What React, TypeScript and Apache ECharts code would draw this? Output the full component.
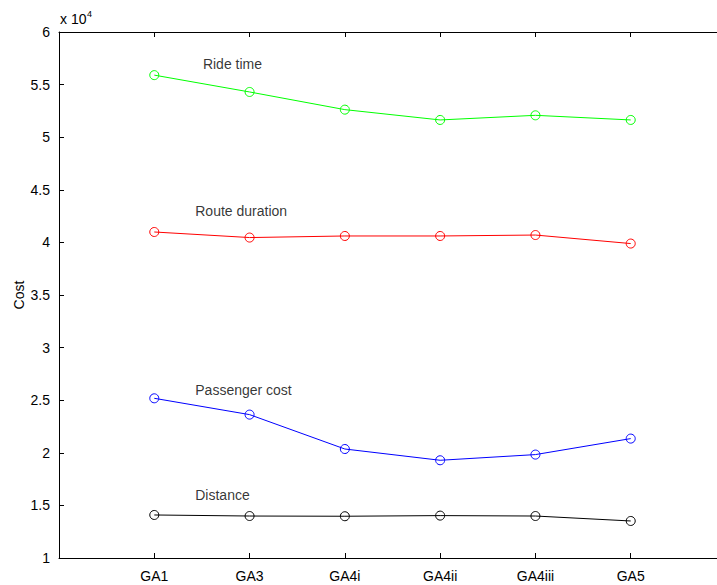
import React, { useEffect, useRef } from 'react';
import * as echarts from 'echarts';

const categories = ['GA1', 'GA3', 'GA4i', 'GA4ii', 'GA4iii', 'GA5'];
const rideTime = [55900, 54300, 52620, 51640, 52080, 51640];
const routeDuration = [40990, 40460, 40610, 40610, 40700, 39890];
const passengerCost = [25180, 23630, 20360, 19290, 19830, 21350];
const distance = [14090, 13990, 13970, 14030, 13990, 13520];
const seriesNames = ['Ride time', 'Route duration', 'Passenger cost', 'Distance'];
const seriesColors = ['#00ff00', '#ff0000', '#0000ff', '#000000'];
const labelX = [1.51, 1.43, 1.43, 1.43];
const labelY = [56930, 42980, 25940, 15960];
const yMin = 10000;
const yMax = 60000;
const yStep = 5000;
const yScale = 10000;

const FONT = 'Liberation Sans, Arial, Helvetica, sans-serif';

export default function App() {
  const ref = useRef<HTMLDivElement>(null);
  useEffect(() => {
    if (!ref.current) return;
    const chart = echarts.init(ref.current, null, { renderer: 'svg' });
    const allValues = [rideTime, routeDuration, passengerCost, distance];
    const lineSeries = allValues.map((vals, si) => ({
      type: 'line',
      name: seriesNames[si],
      data: categories.map((_, i) => [i + 1, vals[i]]),
      symbol: 'circle',
      symbolSize: 9,
      showAllSymbol: true,
      lineStyle: { color: seriesColors[si], width: 1 },
      itemStyle: { color: 'rgba(0,0,0,0)', borderColor: seriesColors[si], borderWidth: 1 },
      emphasis: { disabled: true },
      z: 3,
    }));
    const labelSeries = {
      type: 'scatter',
      symbolSize: 0,
      data: seriesNames.map((n, i) => ({ name: n, value: [labelX[i], labelY[i]] })),
      label: {
        show: true,
        position: 'right',
        distance: 0,
        formatter: '{b}',
        color: '#000',
        fontSize: 14,
        fontFamily: FONT,
      },
      silent: true,
      z: 4,
    };
    const axisLineStyle = { lineStyle: { color: '#000', width: 1 } };
    chart.setOption({
      animation: false,
      backgroundColor: '#fff',
      grid: {
        left: 59,
        top: 32,
        bottom: 27,
        right: -9,
        containLabel: false,
        outerBoundsMode: 'none',
      },
      xAxis: [
        {
          type: 'value',
          min: 0,
          max: 7,
          interval: 1,
          position: 'bottom',
          axisLine: { show: true, onZero: false, ...axisLineStyle },
          axisTick: { show: true, inside: true, length: 5, lineStyle: { color: '#000' } },
          axisLabel: {
            color: '#000',
            fontSize: 14,
            fontFamily: FONT,
            margin: 11,
            formatter: (v: number) => categories[v - 1] || '',
          },
          splitLine: { show: false },
        },
        {
          type: 'value',
          min: 0,
          max: 7,
          interval: 1,
          position: 'top',
          axisLine: { show: true, onZero: false, ...axisLineStyle },
          axisTick: { show: true, inside: true, length: 5, lineStyle: { color: '#000' } },
          axisLabel: { show: false },
          splitLine: { show: false },
        },
      ],
      yAxis: {
        type: 'value',
        min: yMin,
        max: yMax,
        interval: yStep,
        name: 'Cost',
        nameLocation: 'middle',
        nameGap: 33,
        nameMoveOverlap: false,
        nameTextStyle: { color: '#000', fontSize: 14, fontFamily: FONT },
        axisLine: { show: true, onZero: false, ...axisLineStyle },
        axisTick: { show: true, inside: true, length: 5, lineStyle: { color: '#000' } },
        axisLabel: {
          color: '#000',
          fontSize: 14,
          fontFamily: FONT,
          margin: 9,
          formatter: (v: number) => String(v / yScale),
        },
        splitLine: { show: false },
      },
      graphic: [
        {
          type: 'text',
          left: 60,
          top: 12,
          style: { text: 'x 10', fontSize: 14, fontFamily: FONT, fill: '#000' },
        },
        {
          type: 'text',
          left: 87,
          top: 9,
          style: { text: '4', fontSize: 9, fontFamily: FONT, fill: '#000' },
        },
      ],
      series: [...lineSeries, labelSeries],
    });
    return () => chart.dispose();
  }, []);
  return (
    <div
      ref={ref}
      style={{ position: 'fixed', left: 0, top: 0, width: 717, height: 585 }}
    />
  );
}
